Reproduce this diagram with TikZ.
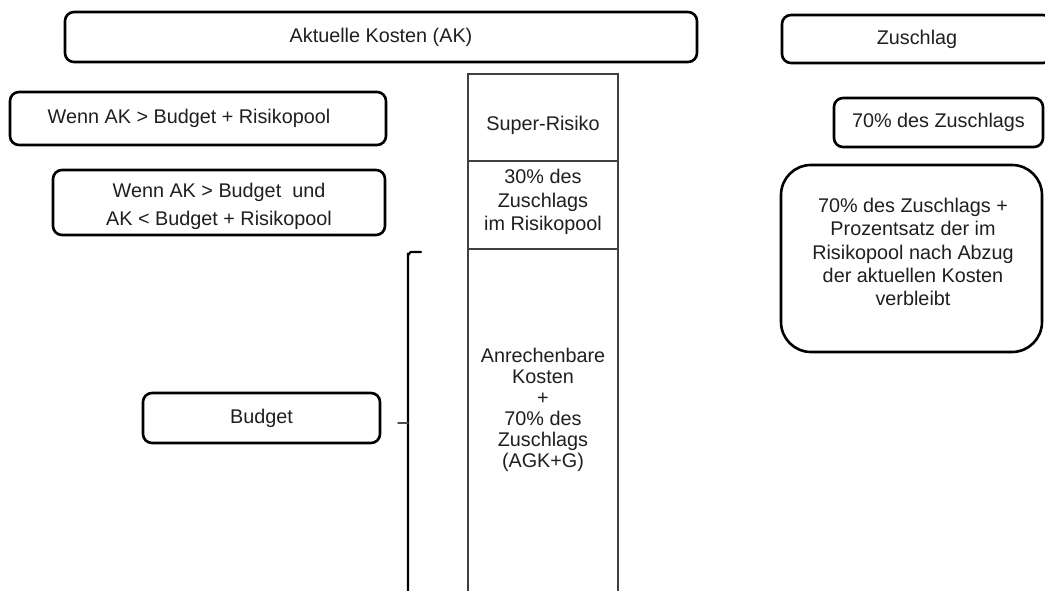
\documentclass[tikz,border=0pt]{standalone}
\usepackage{fontspec}
\setmainfont{Liberation Sans}
\begin{document}
\begin{tikzpicture}[x=1pt,y=-1pt,
  every node/.style={font=\fontsize{19.8}{23.3}\selectfont, text=black!88, align=center, inner sep=0pt, outer sep=0pt},
  box/.style={draw=black, line width=2.6pt, rounded corners=9pt},
  cell/.style={draw=black!75, line width=1.3pt},
  bracket/.style={draw=black, line width=2.2pt}
]
\clip (0,0) rectangle (1045,591);
\fill[white] (0,0) rectangle (1045,591);

% top row
\node[box, minimum width=632pt, minimum height=50pt] (ak) at (381,37) {Aktuelle Kosten (AK)};
\node[box, minimum width=270pt, minimum height=48pt] (zuschlag) at (917,39) {Zuschlag};

% conditions on the left
\node[box, minimum width=376pt, minimum height=53pt,
      label={[xshift=-9pt]center:Wenn AK > Budget + Risikopool}] (cond1) at (198,118.5) {};
\node[box, minimum width=332pt, minimum height=65pt] (cond2) at (219,202.5) {};
\node[font=\fontsize{19.8}{28}\selectfont] (cond2text) at (219,206)
  {Wenn AK > Budget\ \ und\\AK < Budget + Risikopool};
\node[box, minimum width=237pt, minimum height=50pt] (budget) at (261.5,418) {Budget};

% stacked cost column
\node[cell, minimum width=150pt, minimum height=87pt] (super) at (543,117.5) {};
\node at (543,125) (supertext) {Super-Risiko};
\node[cell, minimum width=150pt, minimum height=88pt] (pool) at (543,205) {};
\node at (543,202) (pooltext) {30\% des\\Zuschlags\\im Risikopool};
\node[cell, minimum width=150pt, minimum height=360pt] (base) at (543,429) {};
\node[font=\fontsize{19.8}{21}\selectfont] at (543,410) (basetext) {Anrechenbare\\Kosten\\+\\70\% des\\Zuschlags\\(AGK+G)};

% bracket spanning the budget part
\coordinate (btop) at (421,252);
\coordinate (bcorner) at (408,252);
\coordinate (bbottom) at (408,600);
\coordinate (btick) at (398,423);
\coordinate (bmid) at (408,423);
\draw[bracket, line cap=round] (btop) -- ([xshift=3pt]bcorner) to[out=180,in=-90] ([yshift=-3pt]bcorner) -- (bbottom);
\draw[draw=black!70, line width=1.5pt, line cap=round] (btick) -- (bmid);

% surcharge column on the right
\node[box, minimum width=209pt, minimum height=49pt] (seventy) at (938.5,122.5) {70\% des Zuschlags};
\node[box, rounded corners=30pt, minimum width=261pt, minimum height=187pt] (rest) at (911.5,258.5) {};
\node at (913,252) (resttext) {70\% des Zuschlags +\\Prozentsatz der im\\Risikopool nach Abzug\\der aktuellen Kosten\\verbleibt};
\end{tikzpicture}
\end{document}
